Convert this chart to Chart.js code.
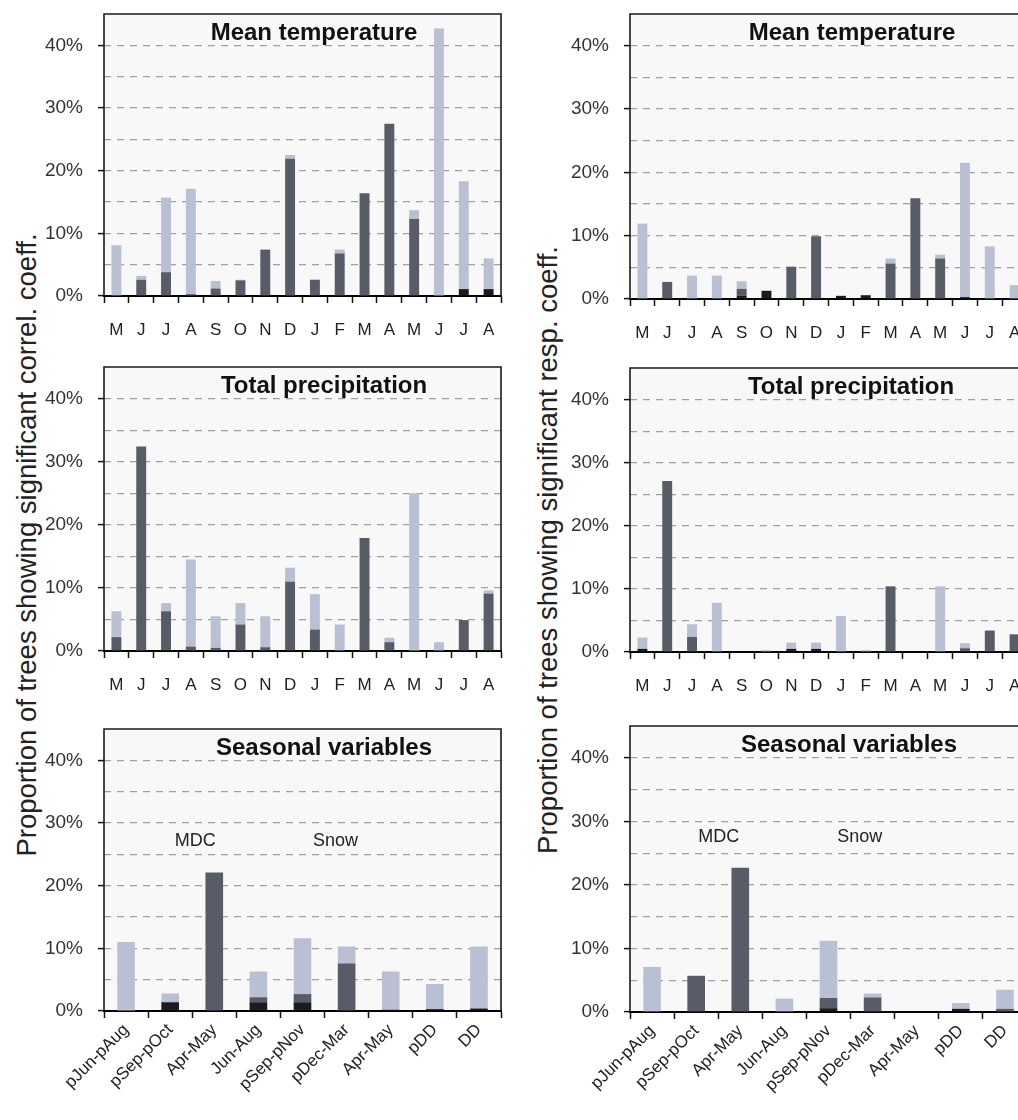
<!DOCTYPE html>
<html><head><meta charset="utf-8">
<script src="https://cdn.jsdelivr.net/npm/chart.js@4/dist/chart.umd.min.js"></script>
<style>
html,body{margin:0;padding:0;width:1018px;height:1120px;overflow:hidden;background:#fff;}
canvas{position:absolute;}
.ylab{position:absolute;white-space:nowrap;font-family:'Liberation Sans',Arial,sans-serif;font-size:27.5px;color:#222;transform:translate(-50%,-50%) rotate(-90deg);}
</style></head><body>
<div class="ylab" style="left:27px;top:545px">Proportion of trees showing significant correl. coeff.</div>
<div class="ylab" style="left:548px;top:550px">Proportion of trees showing significant resp. coeff.</div>
<canvas id="c1"></canvas><canvas id="c2"></canvas><canvas id="c3"></canvas>
<canvas id="c4"></canvas><canvas id="c5"></canvas><canvas id="c6"></canvas>
<script>
// ---- categories ----
const monthLabels = ['M','J','J','A','S','O','N','D','J','F','M','A','M','J','J','A'];
const seasonLabels = ['pJun-pAug','pSep-pOct','Apr-May','Jun-Aug','pSep-pNov','pDec-Mar','Apr-May','pDD','DD'];
const seasonGroupLabels = ['MDC','Snow'];
const panelTitles = ['Mean temperature','Total precipitation','Seasonal variables'];

// ---- series values (%), segments stacked: black, dark, light ----
// Mean temperature, correlation
const tempCorrBlack = [0,0,0,0,0,0,0,0,0,0,0,0,0,0,1.1,1.1];
const tempCorrDark  = [0,2.6,3.8,0.3,1.2,2.5,7.4,21.9,2.6,6.8,16.4,27.5,12.3,0,0,0];
const tempCorrLight = [8.1,0.6,11.9,16.8,1.2,0.1,0,0.6,0,0.6,0,0,1.4,42.7,17.2,4.9];
// Mean temperature, response
const tempRespBlack = [0,0,0,0,0.5,1.3,0,0,0.5,0.6,0,0,0,0.3,0,0];
const tempRespDark  = [0,2.7,0,0,1.1,0,5.1,9.9,0,0,5.6,15.9,6.4,0,0,0];
const tempRespLight = [11.9,0,3.7,3.7,1.2,0,0,0,0,0,0.8,0,0.6,21.2,8.3,2.2];
// Total precipitation, correlation
const precCorrBlack = [0,0,0,0,0,0,0,0,0,0,0,0,0,0,0,0];
const precCorrDark  = [2.2,32.4,6.3,0.7,0.5,4.2,0.6,11.0,3.4,0,17.9,1.4,0,0,4.9,9.1];
const precCorrLight = [4.1,0,1.3,13.8,5.0,3.4,4.9,2.2,5.6,4.2,0,0.7,25.0,1.4,0,0.5];
// Total precipitation, response
const precRespBlack = [0.5,0,0,0,0,0,0.5,0.5,0,0,0,0,0,0,0,0];
const precRespDark  = [0,27.1,2.4,0,0,0,0,0,0,0,10.4,0,0,0.6,3.4,2.8];
const precRespLight = [1.8,0,2.0,7.8,0,0.3,1.0,1.0,5.7,0.3,0,0,10.4,0.8,0,0];
// Seasonal variables, correlation
const seasCorrBlack = [0,1.4,0,1.4,1.4,0,0.2,0.3,0.4];
const seasCorrDark  = [0,0,22.1,0.8,1.3,7.6,0,0,0];
const seasCorrLight = [11.0,1.4,0,4.1,8.9,2.7,6.1,4.0,9.9];
// Seasonal variables, response
const seasRespBlack = [0,0,0,0,0.6,0,0,0.5,0];
const seasRespDark  = [0,5.7,22.7,0,1.6,2.3,0,0,0.5];
const seasRespLight = [7.1,0,0,2.1,9.0,0.6,0,0.9,3.0];

// ---- styles ----
const FONT = "'Liberation Sans', Arial, sans-serif";
const COL_BLACK = '#1b1b1d', COL_DARK = '#585c66', COL_LIGHT = '#bac0d3';

const panelPlugin = {
  id: 'panelDeco',
  beforeDraw(chart) {
    const {ctx, chartArea: a} = chart;
    ctx.save();
    ctx.fillStyle = '#f8f8f8';
    ctx.fillRect(a.left, a.top, a.right - a.left, a.bottom - a.top);
    ctx.restore();
  },
  afterDraw(chart) {
    const {ctx, chartArea: a} = chart;
    const o = chart.options.plugins.panelDeco;
    ctx.save();
    ctx.strokeStyle = '#1a1a1a';
    ctx.lineWidth = 1.6;
    ctx.beginPath();
    ctx.moveTo(a.left, a.bottom);
    ctx.lineTo(a.left, a.top);
    ctx.lineTo(a.right, a.top);
    ctx.lineTo(a.right, a.bottom);
    ctx.stroke();
    ctx.fillStyle = '#111';
    ctx.font = 'bold 24px ' + FONT;
    ctx.textAlign = 'center';
    ctx.textBaseline = 'alphabetic';
    ctx.fillText(o.title, a.left + o.titleOffset, a.top + 26);
    if (o.notes) {
      const xs = chart.scales.x, ys = chart.scales.y;
      ctx.font = '18px ' + FONT;
      ctx.fillStyle = '#222';
      ctx.textBaseline = 'middle';
      o.notes.forEach(n => ctx.fillText(n.text, xs.getPixelForValue(n.idx), ys.getPixelForValue(n.val)));
    }
    ctx.restore();
  }
};

function makePanel(id, c) {
  const cv = document.getElementById(id);
  cv.width = c.width; cv.height = c.height;
  cv.style.left = c.left + 'px'; cv.style.top = c.top + 'px';
  new Chart(cv, {
    type: 'bar',
    data: {
      labels: c.labels,
      datasets: [
        {data: c.black, backgroundColor: COL_BLACK},
        {data: c.dark, backgroundColor: COL_DARK},
        {data: c.light, backgroundColor: COL_LIGHT}
      ]
    },
    options: {
      responsive: false,
      devicePixelRatio: 1,
      animation: false,
      layout: {padding: {top: c.padTop, right: c.padRight, left: 0, bottom: 0}},
      datasets: {bar: {barPercentage: 0.4, categoryPercentage: 1, borderWidth: 0}},
      plugins: {
        legend: {display: false},
        tooltip: {enabled: false},
        panelDeco: {title: c.title, titleOffset: c.titleOffset, notes: c.notes}
      },
      scales: {
        x: {
          stacked: true,
          afterFit: s => { s.height = c.xHeight; s.paddingLeft = 0; s.paddingRight = 0; },
          grid: {offset: true, drawOnChartArea: false, drawTicks: true, tickLength: 7, tickColor: '#111', tickWidth: 1.5},
          border: {display: true, color: '#000', width: 2},
          ticks: c.rotate
            ? {color: '#222', font: {family: FONT, size: 17}, padding: 2, minRotation: 45, maxRotation: 45, autoSkip: false}
            : {color: '#222', font: {family: FONT, size: 17}, padding: 17, maxRotation: 0, autoSkip: false}
        },
        y: {
          stacked: true,
          min: 0, max: 45,
          afterFit: s => { s.width = c.yWidth; s.paddingTop = 0; s.paddingBottom = 0; },
          grid: {
            drawOnChartArea: true, drawTicks: true, tickLength: 6, tickWidth: 1.5,
            color: t => (t.tick && t.tick.value > 0 && t.tick.value < 45) ? '#a0a0a0' : 'rgba(0,0,0,0)',
            tickColor: t => (t.tick && t.tick.value % 10 === 0) ? '#111' : 'rgba(0,0,0,0)',
            lineWidth: 1.2
          },
          border: {display: false, dash: [7, 6]},
          ticks: {
            stepSize: 5, autoSkip: false, color: '#333', padding: 15,
            font: {family: FONT, size: 19},
            callback: v => (v % 10 === 0 && v <= 40) ? v + '%' : ''
          }
        }
      }
    },
    plugins: [panelPlugin]
  });
}

const leftCol = {left: 0, width: 504, yWidth: 104, padRight: 3};
const rightCol = {left: 528, width: 502, yWidth: 102, padRight: 3};

makePanel('c1', Object.assign({}, leftCol, {top: 0, height: 350, padTop: 14, xHeight: 54,
  labels: monthLabels, black: tempCorrBlack, dark: tempCorrDark, light: tempCorrLight,
  title: panelTitles[0], titleOffset: 210}));
makePanel('c2', Object.assign({}, leftCol, {top: 352, height: 350, padTop: 15, xHeight: 51,
  labels: monthLabels, black: precCorrBlack, dark: precCorrDark, light: precCorrLight,
  title: panelTitles[1], titleOffset: 220}));
makePanel('c3', Object.assign({}, leftCol, {top: 710, height: 410, padTop: 19, xHeight: 109, rotate: true,
  labels: seasonLabels, black: seasCorrBlack, dark: seasCorrDark, light: seasCorrLight,
  title: panelTitles[2], titleOffset: 220,
  notes: [{text: seasonGroupLabels[0], idx: 1.57, val: 27.2}, {text: seasonGroupLabels[1], idx: 4.75, val: 27.2}]}));
makePanel('c4', Object.assign({}, rightCol, {top: 0, height: 350, padTop: 14, xHeight: 51,
  labels: monthLabels, black: tempRespBlack, dark: tempRespDark, light: tempRespLight,
  title: panelTitles[0], titleOffset: 222}));
makePanel('c5', Object.assign({}, rightCol, {top: 352, height: 350, padTop: 16, xHeight: 50,
  labels: monthLabels, black: precRespBlack, dark: precRespDark, light: precRespLight,
  title: panelTitles[1], titleOffset: 221}));
makePanel('c6', Object.assign({}, rightCol, {top: 706, height: 414, padTop: 20, xHeight: 108, rotate: true,
  labels: seasonLabels, black: seasRespBlack, dark: seasRespDark, light: seasRespLight,
  title: panelTitles[2], titleOffset: 219,
  notes: [{text: seasonGroupLabels[0], idx: 1.51, val: 27.6}, {text: seasonGroupLabels[1], idx: 4.71, val: 27.6}]}));
</script>
</body></html>
